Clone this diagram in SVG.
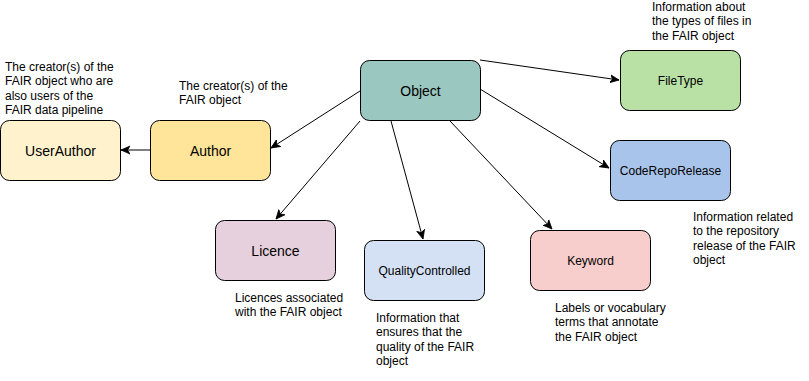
<svg xmlns="http://www.w3.org/2000/svg" width="809" height="381" viewBox="0 0 809 381">
  <style>
    .box { stroke: #000; stroke-width: 1; }
    .lbl14 { font-family: "Liberation Sans", Arial, sans-serif; font-size: 14px; fill: #000; text-anchor: middle; dominant-baseline: central; }
    .lbl12 { font-family: "Liberation Sans", Arial, sans-serif; font-size: 12px; fill: #000; text-anchor: middle; dominant-baseline: central; }
    .note { font-family: "Liberation Sans", Arial, sans-serif; font-size: 12px; fill: #000; }
    .edge { stroke: #000; stroke-width: 1; fill: none; marker-end: url(#arrow); }
  </style>
  <defs>
    <marker id="arrow" viewBox="0 0 10 10" refX="9" refY="5" markerWidth="10" markerHeight="10" markerUnits="userSpaceOnUse" orient="auto">
      <path d="M0,1 L9,5 L0,9 L2.5,5 Z" fill="#000" stroke="#000" stroke-width="0.8"/>
    </marker>
  </defs>
  <rect width="809" height="381" fill="#fff"/>

  <g id="connectors">
    <line class="edge" x1="150" y1="150" x2="121" y2="150"/>
    <line class="edge" x1="360" y1="91" x2="271" y2="148"/>
    <line class="edge" x1="480" y1="60" x2="619" y2="80"/>
    <line class="edge" x1="480" y1="89" x2="609" y2="168"/>
    <line class="edge" x1="360" y1="121" x2="276" y2="219"/>
    <line class="edge" x1="391" y1="121" x2="423" y2="239"/>
    <line class="edge" x1="450" y1="121" x2="552" y2="229"/>
  </g>

  <g id="node-object">
    <rect class="box" x="360.5" y="60.5" width="120" height="60" rx="9" fill="#9ac7bf"/>
    <text class="lbl14" x="420.5" y="90.5">Object</text>
  </g>

  <g id="node-userauthor">
    <rect class="box" x="0.5" y="120.5" width="120" height="60" rx="9" fill="#fff2cc"/>
    <text class="lbl14" x="60.5" y="150.5">UserAuthor</text>
    <text class="note" x="5" y="71">
      <tspan x="5">The creator(s) of the</tspan>
      <tspan x="5" dy="14.4">FAIR object who are</tspan>
      <tspan x="5" dy="14.4">also users of the</tspan>
      <tspan x="5" dy="14.4">FAIR data pipeline</tspan>
    </text>
  </g>

  <g id="node-author">
    <rect class="box" x="150.5" y="120.5" width="120" height="60" rx="9" fill="#ffe599"/>
    <text class="lbl14" x="210.5" y="150.5">Author</text>
    <text class="note" x="179" y="90">
      <tspan x="179">The creator(s) of the</tspan>
      <tspan x="179" dy="14.4">FAIR object</tspan>
    </text>
  </g>

  <g id="node-filetype">
    <rect class="box" x="620.5" y="50.5" width="120" height="60" rx="9" fill="#b9e0a5"/>
    <text class="lbl12" x="680.5" y="80.5">FileType</text>
    <text class="note" x="652" y="11">
      <tspan x="652">Information about</tspan>
      <tspan x="652" dy="14.4">the types of files in</tspan>
      <tspan x="652" dy="14.4">the FAIR object</tspan>
    </text>
  </g>

  <g id="node-coderepo">
    <rect class="box" x="610.5" y="140.5" width="120" height="60" rx="9" fill="#a9c4eb"/>
    <text class="lbl12" x="670.5" y="170.5">CodeRepoRelease</text>
    <text class="note" x="693" y="221">
      <tspan x="693">Information related</tspan>
      <tspan x="693" dy="14.4">to the repository</tspan>
      <tspan x="693" dy="14.4">release of the FAIR</tspan>
      <tspan x="693" dy="14.4">object</tspan>
    </text>
  </g>

  <g id="node-licence">
    <rect class="box" x="215.5" y="220.5" width="120" height="60" rx="9" fill="#e6d0de"/>
    <text class="lbl14" x="275.5" y="250.5">Licence</text>
    <text class="note" x="235" y="302">
      <tspan x="235">Licences associated</tspan>
      <tspan x="235" dy="14.4">with the FAIR object</tspan>
    </text>
  </g>

  <g id="node-qualitycontrolled">
    <rect class="box" x="364.5" y="240.5" width="120" height="60" rx="9" fill="#d4e1f5"/>
    <text class="lbl12" x="424.5" y="270.5">QualityControlled</text>
    <text class="note" x="376" y="322">
      <tspan x="376">Information that</tspan>
      <tspan x="376" dy="14.4">ensures that the</tspan>
      <tspan x="376" dy="14.4">quality of the FAIR</tspan>
      <tspan x="376" dy="14.4">object</tspan>
    </text>
  </g>

  <g id="node-keyword">
    <rect class="box" x="530.5" y="230.5" width="120" height="60" rx="9" fill="#f8cecc"/>
    <text class="lbl12" x="590.5" y="260.5">Keyword</text>
    <text class="note" x="555" y="312">
      <tspan x="555">Labels or vocabulary</tspan>
      <tspan x="555" dy="14.4">terms that annotate</tspan>
      <tspan x="555" dy="14.4">the FAIR object</tspan>
    </text>
  </g>
</svg>
